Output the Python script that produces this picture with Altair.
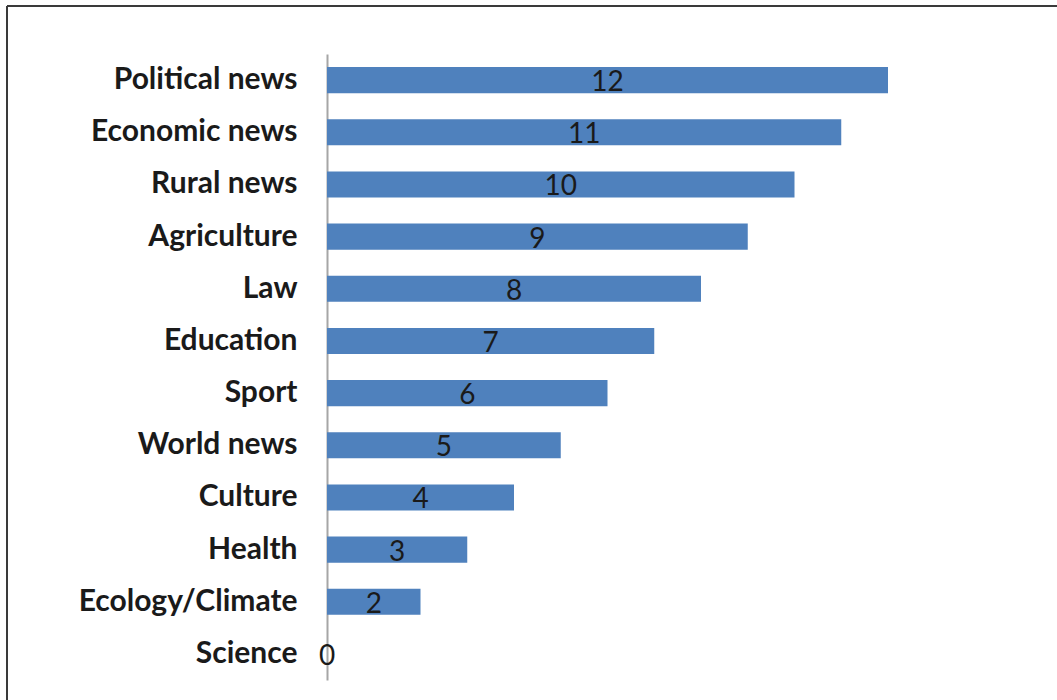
import altair as alt
import pandas as pd

categories = ["Political news", "Economic news", "Rural news", "Agriculture", "Law",
              "Education", "Sport", "World news", "Culture", "Health", "Ecology/Climate", "Science"]
values = [12, 11, 10, 9, 8, 7, 6, 5, 4, 3, 2, 0]

df = pd.DataFrame({"category": categories, "value": values})

W, H = 561, 626
PAD_L, PAD_T = 327, 54

y_enc = alt.Y("category:N", sort=categories,
              scale=alt.Scale(paddingInner=0.5, paddingOuter=0.25),
              axis=alt.Axis(title=None, ticks=False, domainColor="#A6A6A6", domainWidth=2,
                            labelFont="Lato", labelFontWeight="bold", labelFontSize=30,
                            labelColor="#1a1a1a", labelPadding=30, labelLimit=400))
x_scale = alt.Scale(domain=[0, 12], nice=False)

bars = alt.Chart(df).mark_bar(color="#4F81BD").encode(
    x=alt.X("value:Q", scale=x_scale, axis=None),
    y=y_enc,
)

labels = alt.Chart(df).transform_calculate(mid="datum.value / 2").mark_text(
    font="Lato", fontSize=28, color="#1a1a1a", baseline="middle", dy=3
).encode(
    x=alt.X("mid:Q", scale=x_scale, axis=None),
    y=alt.Y("category:N", sort=categories),
    text="value:Q",
)

frame_df = pd.DataFrame({"k": [0]})
left_line = alt.Chart(frame_df).mark_rule(color="#3a3a3a", strokeWidth=2).encode(
    x=alt.value(7 - PAD_L), y=alt.value(6 - PAD_T), y2=alt.value(700 - PAD_T + 10)
)
top_line = alt.Chart(frame_df).mark_rule(color="#3a3a3a", strokeWidth=2).encode(
    x=alt.value(7 - PAD_L), x2=alt.value(1057 - PAD_L + 10), y=alt.value(6 - PAD_T)
)

chart = alt.layer(bars, labels, left_line, top_line).properties(
    width=W, height=H,
    autosize=alt.AutoSizeParams(type="none"),
    padding={"left": PAD_L, "top": PAD_T, "right": 1057 - PAD_L - W, "bottom": 700 - PAD_T - H},
).configure(background="white").configure_view(strokeWidth=0, stroke=None)

chart.save("out.html", embed_options={"renderer": "svg", "actions": False})
